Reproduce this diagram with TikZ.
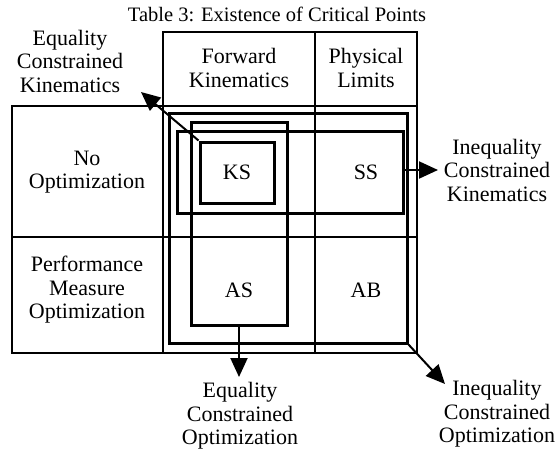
\documentclass[tikz,border=0pt]{standalone}
\usepackage{fontspec}
\setmainfont{Liberation Serif}
\usetikzlibrary{arrows.meta}
\begin{document}
\begin{tikzpicture}[x=1pt,y=-1pt,
  thin line/.style={line width=1.2pt},
  thick box/.style={line width=3pt},
  lbl/.style={font=\fontsize{22}{23.5}\selectfont, align=center, inner sep=0pt},
  arr/.style={line width=2pt, -{Triangle[length=19pt,width=17pt]}}]
\useasboundingbox (0,0) rectangle (555,450);
% title
\node[lbl, font=\fontsize{20.5}{22}\selectfont] (title) at (277,14) {Table 3: Existence of Critical Points};
% header
\draw[thin line] (163,32) rectangle (417,106);
\draw[thin line] (315,32) -- (315,353);
% left column
\draw[thin line] (12,106) rectangle (163,353);
\draw[thin line] (12,237) -- (417,237);
% main grid
\draw[thin line] (163,106) rectangle (417,353);
% texts
\node[lbl] (fk) at (239,68) {Forward\\Kinematics};
\node[lbl] (pl) at (366,68) {Physical\\Limits};
\node[lbl] (noopt) at (87,172) {No\\Optimization};
\node[lbl] (pmo) at (87,290) {Performance\\Measure\\Optimization};
\node[lbl] (ks) at (237,172) {KS};
\node[lbl] (ss) at (366,172) {SS};
\node[lbl] (as) at (239,290) {AS};
\node[lbl] (ab) at (366,290) {AB};
% boxes
\node[draw, thick box, minimum width=238pt, minimum height=230pt, inner sep=0pt] (iso) at (288,228) {};
\node[draw, thick box, minimum width=226pt, minimum height=82pt, inner sep=0pt] (isk) at (290,172) {};
\node[draw, thick box, minimum width=96pt, minimum height=203pt, inner sep=0pt] (eco) at (239,223.5) {};
\node[draw, thick box, minimum width=74pt, minimum height=61pt, inner sep=0pt] (ksb) at (237,172.5) {};
% outside labels
\node[lbl] (eck) at (70,61) {Equality\\Constrained\\Kinematics};
\node[lbl] (ick) at (497,170) {Inequality\\Constrained\\Kinematics};
\node[lbl] (eco lbl) at (240,416) {Equality\\Constrained\\Optimization};
\node[lbl] (ico) at (497,414) {Inequality\\Constrained\\Optimization};
% arrows
\coordinate (eckend) at (141,92);
\coordinate (ickend) at (438,170);
\coordinate (ecoend) at (239,377);
\coordinate (icoend) at (445,384);
\draw[arr] (ksb.north west) -- (eckend);
\draw[arr] (isk.east |- ickend) -- (ickend);
\draw[arr] (eco.south) -- (ecoend);
\draw[arr] (iso.south east) -- (icoend);
\end{tikzpicture}
\end{document}
